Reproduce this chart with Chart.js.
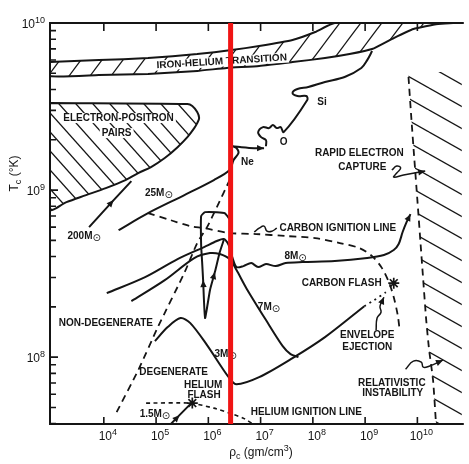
<!DOCTYPE html>
<html>
<head>
<meta charset="utf-8">
<title>Central density vs central temperature of evolving stellar cores</title>
<script src="https://cdn.jsdelivr.net/npm/chart.js@4.4.1/dist/chart.umd.min.js"></script>
<style>
  html, body { margin: 0; padding: 0; background: #ffffff; }
  canvas { display: block; }
</style>
</head>
<body>
<canvas id="chart" width="469" height="464"></canvas>
<script>
// Every point below is [log10 rho_c (g/cm^3), log10 T_c (K)].

const xDecades = [4, 5, 6, 7, 8, 9, 10];
const yDecades = [8, 9, 10];
const xRange = [2.97, 10.85];
const yRange = [7.6, 10.0];

// Hatched regions
const ironHeliumBand = [
  [2.966, 9.766], [3.906, 9.778], [4.846, 9.790], [5.787, 9.814], [6.445, 9.838],
  [6.972, 9.862], [7.611, 9.898], [8.044, 9.946], [8.420, 10.0], [10.70, 10.0],
  [10.395, 9.994], [9.924, 9.964], [9.548, 9.910], [9.134, 9.844], [8.702, 9.814],
  [8.232, 9.790], [7.611, 9.766], [6.972, 9.743], [6.351, 9.731], [5.787, 9.713],
  [4.846, 9.695], [3.906, 9.689], [2.966, 9.683], [2.966, 9.766]
];
const pairRegion = [
  [2.966, 9.521], [5.599, 9.515], [5.693, 9.503], [5.787, 9.467], [5.824, 9.431],
  [5.787, 9.401], [5.730, 9.371], [5.599, 9.317], [5.411, 9.257], [5.166, 9.192],
  [4.903, 9.138], [4.658, 9.102], [4.414, 9.060], [4.038, 9.012], [3.661, 8.970],
  [3.285, 8.928], [2.966, 8.886], [2.966, 9.521]
];
const captureBoundary = [
  [9.830, 9.677], [9.887, 9.419], [9.943, 9.180], [10.000, 8.940], [10.056, 8.701],
  [10.112, 8.461], [10.169, 8.222], [10.225, 8.042], [10.300, 7.862], [10.357, 7.599]
];
const captureRegion = [[9.830, 9.707], ...captureBoundary, [11.0, 7.599], [11.0, 9.707], [9.830, 9.707]];

// Boundary lines
const degeneracyBoundary = [
  [4.245, 7.671], [4.658, 7.922], [5.034, 8.180], [5.542, 8.505], [5.787, 8.683],
  [5.975, 8.778], [6.163, 8.898], [6.407, 9.060]
];
const carbonIgnition = [
  [4.846, 8.862], [5.279, 8.820], [5.655, 8.784], [5.918, 8.772], [6.407, 8.743],
  [6.915, 8.737], [7.479, 8.725], [8.044, 8.713], [8.514, 8.683], [8.890, 8.653],
  [9.134, 8.605], [9.323, 8.533], [9.454, 8.449], [9.548, 8.359], [9.624, 8.251],
  [9.661, 8.162]
];
const heliumIgnition = [
  [4.809, 7.725], [5.655, 7.725], [6.106, 7.695], [6.407, 7.665], [6.671, 7.635], [6.859, 7.599]
];

// Evolutionary tracks
const track200 = [[3.718, 8.778], [4.188, 8.940], [4.527, 9.054]];
const track25 = [
  [4.282, 8.760], [4.846, 8.862], [5.542, 8.970], [6.106, 9.060], [6.407, 9.120],
  [6.483, 9.180], [6.577, 9.222], [6.539, 9.251], [6.464, 9.263], [6.633, 9.257],
  [6.878, 9.251], [7.066, 9.251]
];
const trackLate = [
  [7.103, 9.263], [7.103, 9.299], [7.009, 9.317], [6.953, 9.347], [7.047, 9.377],
  [7.160, 9.371], [7.235, 9.389], [7.310, 9.371], [7.385, 9.377], [7.442, 9.347],
  [7.893, 9.539], [7.874, 9.563], [7.705, 9.563], [7.611, 9.581], [7.705, 9.605],
  [7.912, 9.617], [8.232, 9.647], [8.608, 9.677], [8.928, 9.731], [9.040, 9.778],
  [9.134, 9.832]
];
const track8 = [
  [4.056, 8.383], [4.790, 8.479], [5.411, 8.587], [5.918, 8.659], [6.163, 8.695],
  [6.295, 8.707], [6.389, 8.671], [6.464, 8.593], [6.539, 8.539], [6.671, 8.545],
  [6.821, 8.563], [6.953, 8.539], [7.103, 8.557], [7.291, 8.545], [7.479, 8.563],
  [7.799, 8.569], [8.420, 8.575], [9.040, 8.593], [9.360, 8.611], [9.548, 8.641],
  [9.642, 8.677], [9.718, 8.749], [9.793, 8.808], [9.868, 8.856]
];
const track7 = [
  [4.527, 8.335], [5.166, 8.461], [5.730, 8.593], [6.031, 8.623], [6.219, 8.617],
  [6.407, 8.587], [6.539, 8.521], [6.727, 8.413], [7.103, 8.222], [7.423, 8.066],
  [7.573, 8.018], [7.724, 8.0]
];
const trackLoop = [
  [6.407, 8.826], [6.313, 8.862], [6.163, 8.868], [5.937, 8.868], [5.862, 8.844],
  [5.862, 8.671], [5.881, 8.569], [5.900, 8.461], [5.937, 8.234], [6.031, 8.401],
  [6.125, 8.509], [6.219, 8.629], [6.295, 8.701]
];
const track3 = [
  [4.978, 8.096], [5.222, 8.180], [5.467, 8.234], [5.655, 8.204], [5.975, 8.072],
  [6.389, 7.880], [6.539, 7.838], [6.972, 7.880], [7.611, 7.994], [8.232, 8.120],
  [8.984, 8.305]
];
const track3Flash = [[8.984, 8.305], [9.172, 8.341], [9.398, 8.389]];
const track15 = [[5.260, 7.593], [5.448, 7.653], [5.655, 7.719]];

// Ignition flashes (helium, carbon)
const flashPoints = [[5.693, 7.725], [9.548, 8.443]];

// Leader lines from labels
const carbonSquiggle = [[6.878, 8.749], [6.972, 8.772], [7.066, 8.784], [7.122, 8.754], [7.216, 8.754], [7.310, 8.772]];
const captureArrow = [[9.511, 9.120], [9.605, 9.144], [9.680, 9.132], [9.605, 9.102], [9.548, 9.078], [9.736, 9.090], [10.150, 9.114]];
const instabilityArrow = [[9.774, 7.928], [9.924, 7.976], [10.075, 7.970], [10.112, 7.940], [10.225, 7.946], [10.489, 7.982]];
const ejectionArrow = [[9.210, 8.162], [9.229, 8.234], [9.304, 8.269], [9.285, 8.305], [9.360, 8.359]];

// Highlighted density
const markedDensity = 6.426;

const annotations = [
  { t: 'IRON-HELIUM TRANSITION', at: [6.257, 9.769], rot: -3.5, knock: true },
  { t: 'ELECTRON-POSITRON', at: [4.282, 9.431], knock: true },
  { t: 'PAIRS', at: [4.245, 9.341], knock: true },
  { t: '25M_{⊙}', at: [5.053, 8.982] },
  { t: '200M_{⊙}', at: [3.624, 8.725] },
  { t: 'Ne', at: [6.746, 9.168] },
  { t: 'O', at: [7.442, 9.287] },
  { t: 'Si', at: [8.175, 9.527] },
  { t: 'RAPID ELECTRON', at: [8.890, 9.222] },
  { t: 'CAPTURE', at: [8.946, 9.138] },
  { t: 'CARBON IGNITION LINE', at: [8.476, 8.772] },
  { t: '8M_{⊙}', at: [7.668, 8.605] },
  { t: 'CARBON FLASH', at: [8.551, 8.443] },
  { t: '7M_{⊙}', at: [7.160, 8.299] },
  { t: 'NON-DEGENERATE', at: [4.038, 8.204] },
  { t: '3M_{⊙}', at: [6.332, 8.018] },
  { t: 'ENVELOPE', at: [9.040, 8.132] },
  { t: 'EJECTION', at: [9.040, 8.060] },
  { t: 'DEGENERATE', at: [5.335, 7.910] },
  { t: 'HELIUM', at: [5.900, 7.832] },
  { t: 'FLASH', at: [5.918, 7.772] },
  { t: 'RELATIVISTIC', at: [9.511, 7.844] },
  { t: 'INSTABILITY', at: [9.529, 7.784] },
  { t: '1.5M_{⊙}', at: [4.978, 7.659] },
  { t: 'HELIUM IGNITION LINE', at: [7.874, 7.671] }
];

const INK = '#151515';
const FONT = '"Liberation Sans", Arial, "DejaVu Sans", sans-serif';

const canvas = document.getElementById('chart');
const mainCtx = canvas.getContext('2d');

const toXY = pts => pts.map(([a, b]) => ({ x: 10 ** a, y: 10 ** b }));

// Repeating diagonal hatch: one stroke per tile, neighbours drawn to keep joins clean
function hatch(w, h, rising, lw) {
  const c = document.createElement('canvas');
  c.width = w; c.height = h;
  const g = c.getContext('2d');
  g.strokeStyle = INK; g.lineWidth = lw;
  for (let dx = -w; dx <= w; dx += w) {
    for (let dy = -h; dy <= h; dy += h) {
      g.beginPath();
      if (rising) { g.moveTo(dx, dy + h); g.lineTo(dx + w, dy); }
      else { g.moveTo(dx, dy); g.lineTo(dx + w, dy + h); }
      g.stroke();
    }
  }
  return mainCtx.createPattern(c, 'repeat');
}

// Text with _{sub} and ^{sup} markup; the solar symbol keeps near full size
function drawRich(ctx, str, x, y, size, weight, align, knock) {
  const parts = [];
  const re = /([_^])\{([^}]*)\}/g;
  let last = 0, m;
  while ((m = re.exec(str)) !== null) {
    if (m.index > last) parts.push({ t: str.slice(last, m.index), k: '' });
    parts.push({ t: m[2], k: m[1] });
    last = re.lastIndex;
  }
  if (last < str.length) parts.push({ t: str.slice(last), k: '' });
  let total = 0;
  for (const p of parts) {
    const solar = p.t === '⊙';
    p.size = p.k ? Math.round(size * (solar ? 0.95 : 0.72)) : size;
    p.dy = p.k === '^' ? -size * 0.4 : p.k === '_' ? size * (solar ? 0.22 : 0.32) : 0;
    p.font = `${solar ? 'normal' : weight} ${p.size}px ${solar ? '"DejaVu Sans", sans-serif' : FONT}`;
    ctx.font = p.font;
    p.w = ctx.measureText(p.t).width;
    total += p.w;
  }
  let cx = align === 'right' ? x - total : align === 'left' ? x : x - total / 2;
  if (knock) {
    const keep = ctx.fillStyle;
    ctx.fillStyle = '#ffffff';
    ctx.fillRect(cx - 2, y - size * 0.5, total + 4, size);
    ctx.fillStyle = keep;
  }
  ctx.textAlign = 'left';
  ctx.textBaseline = 'middle';
  for (const p of parts) {
    ctx.font = p.font;
    ctx.fillText(p.t, cx, y + p.dy);
    cx += p.w;
  }
}

const curve = (pts, extra) => Object.assign({
  data: toXY(pts), showLine: true, borderColor: INK, borderWidth: 2,
  pointRadius: 0, pointHoverRadius: 0, tension: 0.3, fill: false, order: 0
}, extra);

const datasets = [
  curve([[markedDensity, 7.59], [markedDensity, 10.01]], { borderColor: '#f01414', borderWidth: 5, tension: 0, order: -1 }),

  curve(ironHeliumBand, { fill: 'shape', backgroundColor: hatch(21, 28, true, 1.3), tension: 0.15, order: 10, labelsAfter: true }),
  curve(pairRegion, { fill: 'shape', backgroundColor: hatch(17, 19, false, 1.3), tension: 0.3, order: 11 }),
  curve(captureRegion, { fill: 'shape', backgroundColor: hatch(39, 22, false, 1.3), borderWidth: 0, tension: 0, order: 12 }),

  curve(captureBoundary, { borderWidth: 1.8, borderDash: [7, 5], tension: 0.2 }),
  curve(degeneracyBoundary, { borderWidth: 1.8, borderDash: [7, 5], tension: 0.2 }),
  curve(carbonIgnition, { borderWidth: 1.8, borderDash: [7, 5], tension: 0.3 }),
  curve(heliumIgnition, { borderWidth: 1.6, borderDash: [4, 3.5], tension: 0.2 }),

  curve(track200, { tension: 0.1, arrows: [{ i: 1 }] }),
  curve(track25, { tension: 0.3, arrows: [{ i: 11 }] }),
  curve(trackLate, { tension: 0.35 }),
  curve(track8, { tension: 0.3, arrows: [{ i: 23 }] }),
  curve(track7, { tension: 0.3 }),
  curve(trackLoop, { tension: 0.15, arrows: [{ i: 7, rev: true }, { i: 10 }] }),
  curve(track3, { tension: 0.3 }),
  curve(track3Flash, { borderWidth: 1.8, borderDash: [2, 4], tension: 0.2 }),
  curve(track15, { tension: 0, arrows: [{ i: 1 }] }),

  curve(carbonSquiggle, { borderWidth: 1.5, tension: 0.45 }),
  curve(captureArrow, { borderWidth: 1.5, tension: 0.45, arrows: [{ i: 6 }] }),
  curve(instabilityArrow, { borderWidth: 1.5, tension: 0.45, arrows: [{ i: 5 }] }),
  curve(ejectionArrow, { borderWidth: 1.5, tension: 0.45, arrows: [{ i: 4 }] }),

  { data: toXY(flashPoints), showLine: false, pointStyle: 'star', pointRadius: 5.5,
    pointBorderColor: INK, pointBorderWidth: 1.7, pointBackgroundColor: INK, borderColor: INK, order: 0 }
];

// Axis frame, inward ticks, tick labels and axis titles
const framePlugin = {
  id: 'frame',
  beforeDatasetsDraw(chart) {
    const { ctx, chartArea: a, scales: { x, y } } = chart;
    ctx.save();
    ctx.strokeStyle = INK;
    ctx.lineWidth = 2;
    ctx.beginPath();
    ctx.moveTo(a.right + 2, a.top);
    ctx.lineTo(a.left, a.top);
    ctx.lineTo(a.left, a.bottom);
    ctx.lineTo(a.right + 2, a.bottom);
    ctx.stroke();
    ctx.lineWidth = 1.6;
    ctx.beginPath();
    for (let e = Math.floor(yRange[0]); e < yRange[1]; e++) {
      for (let k = 1; k <= 9; k++) {
        const v = k * 10 ** e;
        if (v < 10 ** yRange[0] || v >= 10 ** yRange[1]) continue;
        const py = y.getPixelForValue(v);
        ctx.moveTo(a.left, py);
        ctx.lineTo(a.left + (k === 1 ? 8 : 6), py);
      }
    }
    xDecades.forEach(d => {
      const px = x.getPixelForValue(10 ** d);
      ctx.moveTo(px, a.bottom); ctx.lineTo(px, a.bottom - 7);
      ctx.moveTo(px, a.top); ctx.lineTo(px, a.top + 8);
    });
    ctx.stroke();
    ctx.restore();
  },
  afterDraw(chart) {
    const { ctx, chartArea: a, scales: { x, y } } = chart;
    ctx.save();
    ctx.fillStyle = INK;
    yDecades.forEach(d => drawRich(ctx, `10^{${d}}`, a.left - 5, y.getPixelForValue(10 ** d) + 2, 12, 'normal', 'right'));
    xDecades.forEach(d => drawRich(ctx, `10^{${d}}`, x.getPixelForValue(10 ** d) + 4, a.bottom + 13, 12, 'normal', 'center'));
    ctx.save();
    ctx.translate(15, (a.top + a.bottom) / 2 - 50);
    ctx.rotate(-Math.PI / 2);
    drawRich(ctx, 'T_{c} (°K)', 0, 0, 12, 'normal', 'center');
    ctx.restore();
    drawRich(ctx, 'ρ_{c} (gm/cm^{3})', a.left + 211, a.bottom + 29, 12, 'normal', 'center');
    ctx.restore();
  }
};

// Region and track labels, drawn once the hatched fills are down
const labelPlugin = {
  id: 'regionLabels',
  afterDatasetDraw(chart, args) {
    if (!chart.data.datasets[args.index].labelsAfter) return;
    const { ctx, scales: { x, y } } = chart;
    ctx.save();
    ctx.fillStyle = INK;
    annotations.forEach(l => {
      ctx.save();
      ctx.translate(x.getPixelForValue(10 ** l.at[0]), y.getPixelForValue(10 ** l.at[1]));
      if (l.rot) ctx.rotate(l.rot * Math.PI / 180);
      drawRich(ctx, l.t, 0, 0, 10, 'bold', 'center', l.knock);
      ctx.restore();
    });
    ctx.restore();
  }
};

// Arrowheads placed on chosen points of a track, aligned with the track
const arrowPlugin = {
  id: 'arrowheads',
  afterDatasetDraw(chart, args) {
    const ds = chart.data.datasets[args.index];
    if (!ds.arrows) return;
    const pts = args.meta.data;
    const ctx = chart.ctx;
    ctx.save();
    ctx.fillStyle = INK;
    ds.arrows.forEach(a => {
      const tip = pts[a.i];
      const from = pts[a.rev ? a.i + 1 : a.i - 1];
      const ang = Math.atan2(tip.y - from.y, tip.x - from.x);
      const len = 7, half = 3.2;
      ctx.beginPath();
      ctx.moveTo(tip.x, tip.y);
      ctx.lineTo(tip.x - len * Math.cos(ang) + half * Math.sin(ang), tip.y - len * Math.sin(ang) - half * Math.cos(ang));
      ctx.lineTo(tip.x - len * Math.cos(ang) - half * Math.sin(ang), tip.y - len * Math.sin(ang) + half * Math.cos(ang));
      ctx.closePath();
      ctx.fill();
    });
    ctx.restore();
  }
};

new Chart(canvas, {
  type: 'scatter',
  data: { datasets },
  options: {
    responsive: false,
    devicePixelRatio: 1,
    animation: false,
    events: [],
    layout: { padding: { top: 23, left: 0, right: 0, bottom: 0 } },
    plugins: { legend: { display: false }, tooltip: { enabled: false } },
    scales: {
      x: {
        type: 'logarithmic', bounds: 'data', min: 10 ** xRange[0], max: 10 ** xRange[1],
        grid: { display: false }, border: { display: false }, ticks: { display: false },
        afterFit: s => { s.height = 40; }
      },
      y: {
        type: 'logarithmic', bounds: 'data', min: 10 ** yRange[0], max: 10 ** yRange[1],
        grid: { display: false }, border: { display: false }, ticks: { display: false },
        afterFit: s => { s.width = 50; }
      }
    }
  },
  plugins: [framePlugin, labelPlugin, arrowPlugin]
});
</script>
</body>
</html>
